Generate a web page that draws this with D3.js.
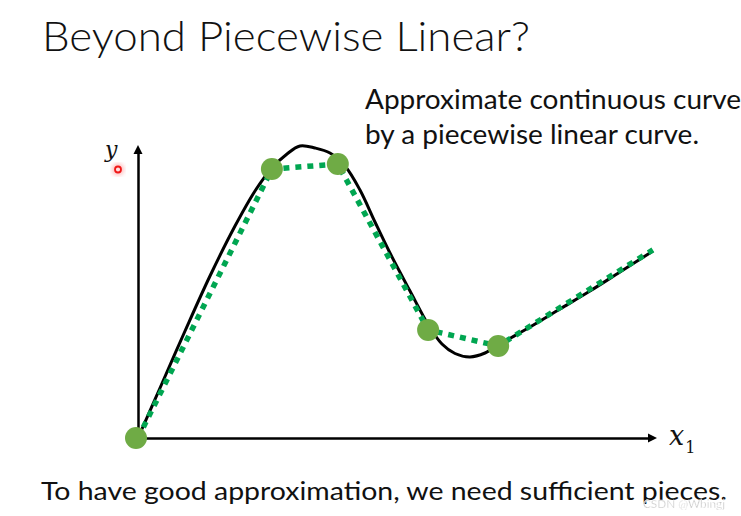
<!DOCTYPE html>
<html>
<head>
<meta charset="utf-8">
<script src="https://cdn.jsdelivr.net/npm/d3@7"></script>
<style>
  body { margin: 0; background: #fff; }
  svg { display: block; }
  .txt { font-family: 'Lato', 'Noto Sans', sans-serif; fill: #111; }
  .math { font-family: 'DejaVu Serif', serif; fill: #111; }
</style>
</head>
<body>
<svg width="741" height="516"></svg>
<script>
// knots of the piecewise linear curve (green)
var knotX = [0, 25.8, 38.5, 55.9, 69.4, 99.2]
var knotY = [0, 91.8, 93.5, 36.9, 31.4, 64.2]

// samples of the continuous curve (black)
var curveX = [0, 4.24, 9.06, 13.87, 18.69, 22.54, 25.82, 28.71, 31.21, 34.10, 36.99, 39.88, 42.77, 45.66, 48.55, 52.41, 56.07, 58.57, 61.08, 63.97, 66.86, 69.75, 75.53, 81.31, 87.09, 92.87, 99.23]
var curveY = [0, 17.06, 36.52, 55.29, 72.35, 84.30, 92.15, 96.93, 99.66, 98.98, 97.27, 92.83, 84.64, 73.72, 63.14, 50.17, 38.23, 32.08, 28.84, 27.65, 29.01, 32.08, 37.88, 44.03, 50.17, 56.66, 63.82]

var titleText = 'Beyond Piecewise Linear?'
var noteLines = ['Approximate continuous curve', 'by a piecewise linear curve.']
var footText = 'To have good approximation, we need sufficient pieces.'

var svg = d3.select('svg')

var x = d3.scaleLinear().domain([0, 100]).range([138, 657])
var y = d3.scaleLinear().domain([0, 100]).range([438, 145])

// axes without ticks, arrowheads added by hand
var arrowLen = 9
var xAxisScale = x.copy().range([x(0), x(100) - arrowLen + 1])
var yAxisScale = y.copy().range([y(0), y(100) + arrowLen - 1])

svg.append('g')
    .attr('transform', 'translate(0,' + y(0) + ')')
    .call(d3.axisBottom(xAxisScale).tickValues([]).tickSizeOuter(0))
    .select('.domain')
    .attr('stroke', '#000')
    .attr('stroke-width', 2.5)

svg.append('g')
    .attr('transform', 'translate(' + x(0) + ',0)')
    .call(d3.axisLeft(yAxisScale).tickValues([]).tickSizeOuter(0))
    .select('.domain')
    .attr('stroke', '#000')
    .attr('stroke-width', 2.5)

svg.append('path')
    .attr('d', 'M' + x(100) + ',' + y(0) + 'L' + (x(100) - arrowLen) + ',' + (y(0) - 4.5) + 'L' + (x(100) - arrowLen) + ',' + (y(0) + 4.5) + 'Z')
    .attr('fill', '#000')
svg.append('path')
    .attr('d', 'M' + x(0) + ',' + y(100) + 'L' + (x(0) - 4.5) + ',' + (y(100) + arrowLen) + 'L' + (x(0) + 4.5) + ',' + (y(100) + arrowLen) + 'Z')
    .attr('fill', '#000')

// continuous curve
var curvePts = curveX.map(function(d, i){ return [d, curveY[i]] })
var smooth = d3.line()
    .x(function(d){ return x(d[0]) })
    .y(function(d){ return y(d[1]) })
    .curve(d3.curveCatmullRom.alpha(0.5))

svg.append('path')
    .attr('d', smooth(curvePts))
    .attr('fill', 'none')
    .attr('stroke', '#000')
    .attr('stroke-width', 3)

// piecewise linear approximation
var knots = knotX.map(function(d, i){ return [d, knotY[i]] })
var straight = d3.line()
    .x(function(d){ return x(d[0]) })
    .y(function(d){ return y(d[1]) })

svg.append('path')
    .attr('d', straight(knots))
    .attr('fill', 'none')
    .attr('stroke', '#00a651')
    .attr('stroke-width', 5.5)
    .attr('stroke-dasharray', '6 6')

svg.selectAll('circle.knot')
    .data(knots.slice(0, 5))
    .join('circle')
    .attr('class', 'knot')
    .attr('cx', function(d){ return x(d[0]) - (d[0] === 0 ? 2 : 0) })
    .attr('cy', function(d){ return y(d[1]) })
    .attr('r', 11)
    .attr('fill', '#6fab45')

// texts
svg.append('text')
    .attr('class', 'txt')
    .attr('x', 42).attr('y', 51)
    .attr('font-size', 42)
    .attr('font-weight', 300)
    .attr('textLength', 488)
    .attr('lengthAdjust', 'spacingAndGlyphs')
    .text(titleText)

svg.selectAll('text.note')
    .data(noteLines)
    .join('text')
    .attr('class', 'note txt')
    .attr('x', 365)
    .attr('y', function(d, i){ return 109 + i * 35 })
    .attr('font-size', 27)
    .attr('textLength', function(d, i){ return i === 0 ? 376 : 334 })
    .attr('lengthAdjust', 'spacingAndGlyphs')
    .text(function(d){ return d })

svg.append('text')
    .attr('class', 'txt')
    .attr('x', 41).attr('y', 500)
    .attr('font-size', 25)
    .attr('textLength', 686)
    .attr('lengthAdjust', 'spacingAndGlyphs')
    .text(footText)

// axis labels
svg.append('text')
    .attr('class', 'math')
    .attr('x', 105).attr('y', 157)
    .attr('font-size', 22)
    .attr('font-style', 'italic')
    .text('y')

var xl = svg.append('text')
    .attr('class', 'math')
    .attr('x', 669).attr('y', 445)
xl.append('tspan').attr('font-size', 27).attr('font-style', 'italic').text('x')
xl.append('tspan').attr('font-size', 16).attr('dy', 8).attr('dx', 1).text('1')

// laser pointer mark
var defs = svg.append('defs')
defs.append('filter').attr('id', 'glow')
    .append('feGaussianBlur').attr('stdDeviation', 2)
svg.append('circle')
    .attr('cx', 118).attr('cy', 169.5).attr('r', 6)
    .attr('fill', '#ff4040').attr('opacity', 0.35)
    .attr('filter', 'url(#glow)')
svg.append('circle')
    .attr('cx', 118).attr('cy', 169.5).attr('r', 3)
    .attr('fill', '#ffe0e0')
    .attr('stroke', '#f01818').attr('stroke-width', 1.8)

// watermark
svg.append('text')
    .attr('x', 643).attr('y', 508)
    .attr('font-family', 'Lato, sans-serif')
    .attr('font-size', 12)
    .attr('fill', '#a8a8a8')
    .attr('stroke', '#ffffff').attr('stroke-width', 0.5)
    .attr('opacity', 0.9)
    .attr('textLength', 82)
    .attr('lengthAdjust', 'spacingAndGlyphs')
    .text('CSDN @Wbingj')
</script>
</body>
</html>
